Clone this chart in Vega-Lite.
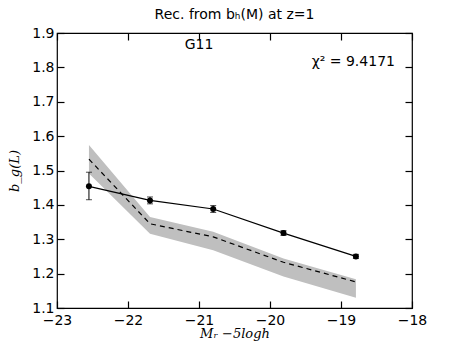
{
  "$schema": "https://vega.github.io/schema/vega-lite/v6.json",
  "width": 355,
  "height": 275,
  "autosize": {"type": "none"},
  "padding": {"left": 57, "top": 33, "right": 46, "bottom": 35},
  "background": "white",
  "config": {
    "view": {"stroke": "black", "strokeWidth": 1.2},
    "font": "DejaVu Sans",
    "axis": {"domain": false, "labelColor": "black", "titleColor": "black", "grid": false, "labelFont": "DejaVu Sans", "labelFontSize": 14, "labelFlush": false, "labelOverlap": false}
  },
  "title": {"text": "Rec. from bₕ(M) at z=1", "font": "DejaVu Sans", "fontSize": 14, "fontWeight": "normal", "anchor": "middle", "offset": 4, "color": "black"},
  "datasets": {
    "obs": [
      {"mag": -22.55, "b": 1.454, "lo": 1.415, "hi": 1.495},
      {"mag": -21.69, "b": 1.413, "lo": 1.403, "hi": 1.423},
      {"mag": -20.80, "b": 1.388, "lo": 1.378, "hi": 1.398},
      {"mag": -19.81, "b": 1.318, "lo": 1.311, "hi": 1.325},
      {"mag": -18.79, "b": 1.250, "lo": 1.244, "hi": 1.256}
    ],
    "model": [
      {"mag": -22.55, "m": 1.533, "lo": 1.491, "hi": 1.574},
      {"mag": -21.69, "m": 1.345, "lo": 1.316, "hi": 1.365},
      {"mag": -20.80, "m": 1.307, "lo": 1.268, "hi": 1.322},
      {"mag": -19.81, "m": 1.233, "lo": 1.192, "hi": 1.244},
      {"mag": -18.79, "m": 1.176, "lo": 1.130, "hi": 1.184}
    ]
  },
  "resolve": {"axis": {"x": "independent", "y": "independent"}},
  "layer": [
    {
      "data": {"name": "model"},
      "mark": {"type": "area", "color": "#bfbfbf", "opacity": 1},
      "encoding": {
        "x": {"field": "mag", "type": "quantitative", "scale": {"domain": [-23, -18], "nice": false, "zero": false},
              "axis": {"orient": "bottom", "values": [-23, -22, -21, -20, -19, -18], "format": "d", "ticks": true, "tickSize": -7, "tickColor": "black", "tickWidth": 1.2, "tickOpacity": 1, "zindex": 1, "labelPadding": 12, "title": "Mᵣ −5logh", "titleFont": "DejaVu Serif", "titleFontStyle": "italic", "titleFontWeight": "normal", "titleFontSize": 13, "titlePadding": 0}},
        "y": {"field": "lo", "type": "quantitative", "scale": {"domain": [1.1, 1.9], "nice": false, "zero": false},
              "axis": {"orient": "left", "values": [1.1, 1.2, 1.3, 1.4, 1.5, 1.6, 1.7, 1.8, 1.9], "format": ".1f", "ticks": true, "tickSize": -7, "tickColor": "black", "tickWidth": 1.2, "tickOpacity": 1, "zindex": 1, "labelPadding": 10, "title": "b_g(L)", "titleFont": "DejaVu Serif", "titleFontStyle": "italic", "titleFontWeight": "normal", "titleFontSize": 13, "titlePadding": 10}},
        "y2": {"field": "hi"}
      }
    },
    {
      "data": {"name": "model"},
      "mark": {"type": "line", "color": "black", "strokeDash": [5, 4], "strokeWidth": 1.2},
      "encoding": {
        "x": {"field": "mag", "type": "quantitative", "axis": {"orient": "top", "values": [-23, -22, -21, -20, -19, -18], "ticks": true, "tickSize": -7, "tickColor": "black", "tickWidth": 1.2, "tickOpacity": 1, "zindex": 1, "labels": false, "title": null}},
        "y": {"field": "m", "type": "quantitative", "axis": {"orient": "right", "values": [1.1, 1.2, 1.3, 1.4, 1.5, 1.6, 1.7, 1.8, 1.9], "ticks": true, "tickSize": -7, "tickColor": "black", "tickWidth": 1.2, "tickOpacity": 1, "zindex": 1, "labels": false, "title": null}}
      }
    },
    {
      "data": {"name": "obs"},
      "mark": {"type": "errorbar", "ticks": {"size": 6, "color": "black"}, "color": "black", "thickness": 1},
      "encoding": {
        "x": {"field": "mag", "type": "quantitative", "axis": null},
        "y": {"field": "lo", "type": "quantitative", "axis": null},
        "y2": {"field": "hi"}
      }
    },
    {
      "data": {"name": "obs"},
      "mark": {"type": "line", "color": "black", "strokeWidth": 1.2, "point": {"filled": true, "color": "black", "size": 36}},
      "encoding": {
        "x": {"field": "mag", "type": "quantitative", "axis": null},
        "y": {"field": "b", "type": "quantitative", "axis": null}
      }
    },
    {
      "data": {"values": [{"label": "G11"}]},
      "mark": {"type": "text", "fontSize": 14, "color": "black", "align": "center", "baseline": "middle"},
      "encoding": {
        "x": {"datum": -21, "type": "quantitative", "axis": null},
        "y": {"datum": 1.866, "type": "quantitative", "axis": null},
        "text": {"field": "label"}
      }
    },
    {
      "data": {"values": [{"label": "χ²  = 9.4171"}]},
      "mark": {"type": "text", "fontSize": 14, "color": "black", "align": "right", "baseline": "middle"},
      "encoding": {
        "x": {"datum": -18.24, "type": "quantitative", "axis": null},
        "y": {"datum": 1.815, "type": "quantitative", "axis": null},
        "text": {"field": "label"}
      }
    }
  ]
}
